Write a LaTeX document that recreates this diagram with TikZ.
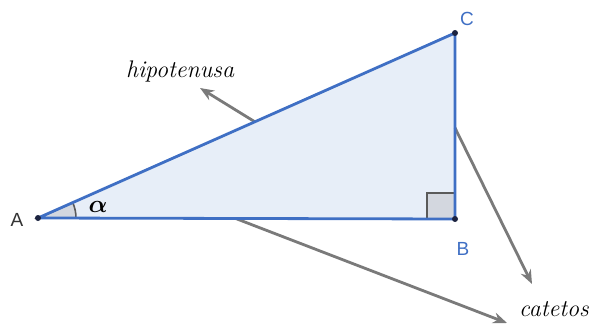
\documentclass[tikz,border=0pt]{standalone}
\usepackage{amsmath}
\usepackage{fontspec}
\newfontfamily\labelfont{Liberation Sans}
\usetikzlibrary{calc, arrows.meta}
\definecolor{triBlue}{HTML}{3F6FC4}
\definecolor{triFill}{HTML}{E7EEF8}
\definecolor{angGrey}{HTML}{D3D7DF}
\definecolor{edgeGrey}{HTML}{5A5A5A}
\definecolor{arrowGrey}{HTML}{7A7A7A}
\definecolor{dotNavy}{HTML}{1C2340}
\tikzset{
  side/.style    = {draw=triBlue, line width=2.8pt, line join=round},
  mark90/.style  = {fill=angGrey, draw=edgeGrey, line width=1.6pt},
  pt/.style      = {circle, fill=dotNavy, inner sep=0pt, minimum size=6pt},
  vlbl/.style    = {text=triBlue, font=\labelfont\fontsize{19}{20}\selectfont},
  pointer/.style = {-{Stealth[length=14pt, width=11pt]}, draw=arrowGrey, line width=2.8pt},
  word/.style    = {font=\fontsize{24}{28}\selectfont\itshape}
}
\begin{document}
\begin{tikzpicture}[x=1pt, y=-1pt]
  \useasboundingbox (0,0) rectangle (591,326);
  \coordinate (A) at (38,218);
  \coordinate (B) at (455,219);
  \coordinate (C) at (455,33);

  % triangle body and angle marks
  \fill[triFill] (A) -- (B) -- (C) -- cycle;
  \draw[mark90] (A) -- ++(38,0) arc[start angle=0, end angle=-23.9, radius=38] -- cycle;
  \draw[mark90] ($(B)+(-28,0)$) rectangle ($(B)+(0,-26)$);

  % pointers
  \coordinate (hipFoot) at ($(A)!0.52!(C)$);
  \coordinate (hipTip) at (200,88);
  \coordinate (catFootB) at ($(B)!0.49!(C)$);
  \coordinate (catTipB) at (532,284);
  \coordinate (catFootA) at ($(A)!0.474!(B)$);
  \coordinate (catTipA) at (507,323);
  \draw[pointer] (hipFoot) -- (hipTip);
  \draw[pointer] (catFootB) -- (catTipB);
  \draw[pointer] (catFootA) -- (catTipA);

  \draw[side] (A) -- (B) -- (C) -- cycle;
  \foreach \p in {A, B, C} \node[pt] (dot\p) at (\p) {};

  % labels
  \node[vlbl, text=black!80] (labA) at (17,220) {A};
  \node[vlbl] (labB) at (463,249) {B};
  \node[vlbl] (labC) at (467,19) {C};
  \node[font=\fontsize{25}{28}\selectfont] (alpha) at (98,207) {$\boldsymbol{\alpha}$};
  \node[word] (hip) at (180,72) {hipotenusa};
  \node[word] (cat) at (554,309) {catetos};
\end{tikzpicture}
\end{document}
